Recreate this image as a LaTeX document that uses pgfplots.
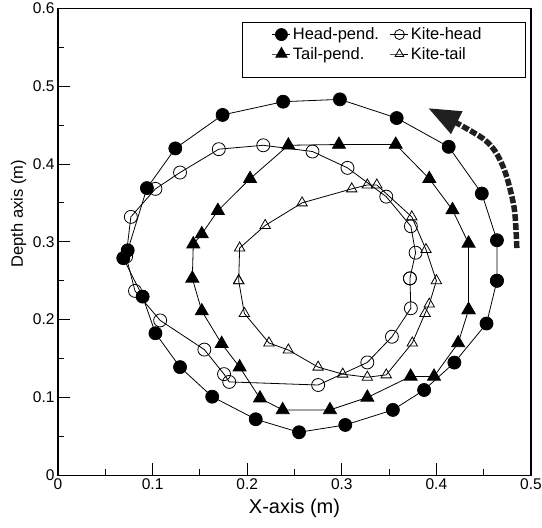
\documentclass[border=0pt]{standalone}
\usepackage{fontspec}
\setmainfont{Liberation Sans}
\usepackage{pgfplots}
\pgfplotsset{compat=1.18}
\usetikzlibrary{arrows.meta}
\newcommand{\lgf}{\fontsize{16.5bp}{19bp}\selectfont}

\begin{document}
\begin{tikzpicture}
\begin{axis}[
    scale only axis,
    width=473bp, height=467bp,
    xmin=0, xmax=0.5, ymin=0, ymax=0.6,
    xtick={0,0.1,0.2,0.3,0.4,0.5},
    ytick={0,0.1,0.2,0.3,0.4,0.5,0.6},
    minor tick num=1,
    tick align=inside,
    xtick pos=bottom, ytick pos=left,
    major tick length=12bp, minor tick length=6bp,
    tick style={black, line width=0.9bp},
    axis line style={line width=1.5bp},
    /pgf/number format/.cd, fixed, precision=1, assume math mode=true,
    /pgfplots/.cd,
    every tick label/.append style={font=\fontsize{15.5bp}{17bp}\selectfont},
    xlabel={X-axis (m)},
    ylabel={Depth axis (m)},
    xlabel style={at={(axis description cs:0.5,-0.0814)}, anchor=base, font=\fontsize{20bp}{22bp}\selectfont},
    ylabel style={at={(axis description cs:-0.074,0.56)}, anchor=base, font=\fontsize{16.5bp}{19bp}\selectfont},
    legend columns=2,
    legend cell align=left,
    legend style={at={(0.9894,0.971)}, anchor=north east, draw=black, line width=1bp,
        font=\lgf, inner xsep=30bp, inner ysep=3.5bp,
        row sep=2bp,
        /tikz/every even column/.append style={column sep=9bp}},
    legend image code/.code={
        \draw[mark repeat=2, mark phase=2, line width=0.8bp] plot coordinates {(0bp,0bp) (9bp,0bp) (18bp,0bp)};},
    clip=false,
]
% curved direction arrow
\addplot[forget plot, smooth, line width=5.5bp, black!88, dash pattern=on 7bp off 2bp,
    -{Triangle[length=32bp, width=24bp]}]
    coordinates {(0.485,0.292) (0.482,0.345) (0.470,0.398) (0.450,0.432) (0.3914,0.4717)};

% Head-pend.
\addplot[black, line width=0.8bp, mark=*, mark size=6.5bp, mark options={solid, fill=black},
    legend image post style={mark size=6bp}]
    coordinates {
    (0.464,0.250) (0.464,0.302) (0.448,0.362) (0.413,0.422) (0.358,0.459)
    (0.298,0.483) (0.238,0.480) (0.174,0.463) (0.124,0.420) (0.094,0.369)
    (0.0737,0.289) (0.069,0.279) (0.0895,0.2296) (0.103,0.1825) (0.129,0.139)
    (0.163,0.101) (0.209,0.072) (0.2548,0.0553) (0.3037,0.0647) (0.354,0.084)
    (0.387,0.1096) (0.419,0.1448) (0.453,0.195) (0.464,0.250)};
\addlegendentry{\lgf Head-pend.}

% Kite-head
\addplot[black, line width=0.8bp, mark=o, mark size=6.5bp, mark options={solid, fill=white},
    legend image post style={mark size=5bp}]
    coordinates {
    (0.372,0.253) (0.378,0.286) (0.373,0.320) (0.347,0.358) (0.306,0.395)
    (0.269,0.416) (0.217,0.424) (0.170,0.419) (0.129,0.389) (0.103,0.368)
    (0.077,0.332) (0.072,0.281) (0.0814,0.2369) (0.108,0.199) (0.1547,0.1615)
    (0.1755,0.130) (0.181,0.120) (0.275,0.116) (0.327,0.145) (0.353,0.178)
    (0.373,0.2146) (0.372,0.253)};
\addlegendentry{\lgf Kite-head\hspace*{12bp}}

% Tail-pend.
\addplot[black, line width=0.8bp, mark=triangle*, mark size=7.5bp, mark options={solid, fill=black},
    legend image post style={mark size=6.5bp}]
    coordinates {
    (0.434,0.2125) (0.434,0.298) (0.417,0.341) (0.3925,0.381) (0.357,0.425)
    (0.297,0.425) (0.2435,0.424) (0.203,0.381) (0.169,0.340) (0.152,0.310)
    (0.143,0.297) (0.142,0.253) (0.152,0.211) (0.173,0.169) (0.192,0.139)
    (0.2135,0.099) (0.2375,0.084) (0.2875,0.084) (0.327,0.100) (0.3728,0.127)
    (0.3975,0.127) (0.423,0.170) (0.434,0.2125)};
\addlegendentry{\lgf Tail-pend.}

% Kite-tail
\addplot[black, line width=0.8bp, mark=triangle, mark size=6bp, mark options={solid, fill=white},
    legend image post style={mark size=5bp}]
    coordinates {
    (0.191,0.250) (0.192,0.292) (0.219,0.321) (0.258,0.350) (0.3105,0.368)
    (0.327,0.373) (0.337,0.373) (0.374,0.332) (0.389,0.290) (0.400,0.250)
    (0.3925,0.220) (0.388,0.208) (0.3745,0.170) (0.347,0.129) (0.327,0.126)
    (0.301,0.130) (0.275,0.139) (0.2435,0.161) (0.223,0.170) (0.197,0.208)
    (0.191,0.250)};
\addlegendentry{\lgf Kite-tail}

\addlegendimage{empty legend}
\addlegendentry{\rule{0pt}{4bp}}
\end{axis}
\pgfresetboundingbox
\path[use as bounding box] ([xshift=-58bp, yshift=-52.7bp]current axis.south west) rectangle ++(542bp,528bp);
\end{tikzpicture}
\end{document}
